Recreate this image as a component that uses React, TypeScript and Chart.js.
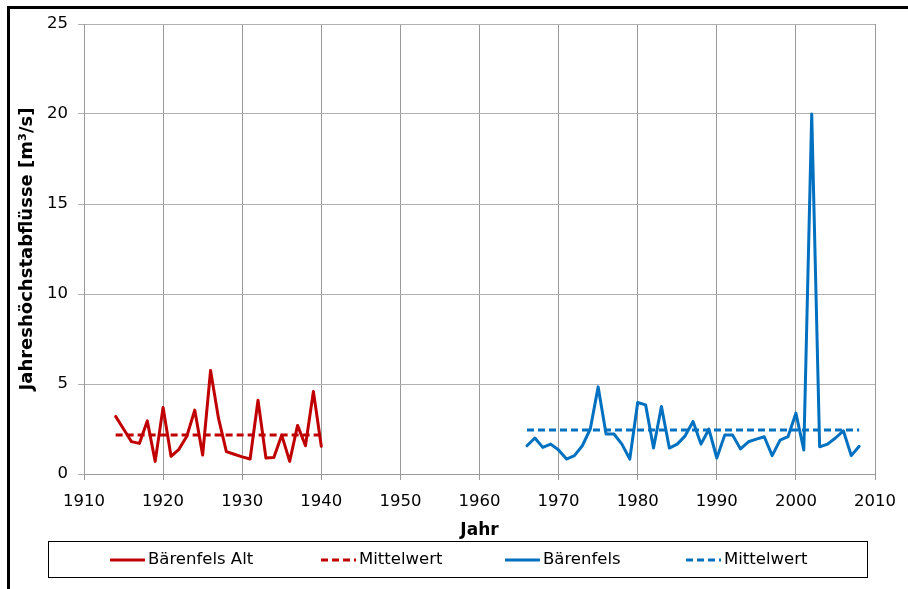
import React, { useEffect, useRef } from "react";
import { Chart, registerables } from "chart.js";

Chart.register(...registerables);

// ---------- data ----------
const X_MIN = 1910;
const X_MAX = 2010;
const X_STEP = 10;
const Y_MIN = 0;
const Y_MAX = 25;
const Y_STEP = 5;

const ALT_YEARS = [
  1914, 1915, 1916, 1917, 1918, 1919, 1920, 1921, 1922, 1923, 1924, 1925, 1926, 1927,
  1928, 1929, 1930, 1931, 1932, 1933, 1934, 1935, 1936, 1937, 1938, 1939, 1940,
];
const ALT_VALUES = [
  3.2, 2.5, 1.8, 1.7, 2.95, 0.7, 3.7, 0.98, 1.37, 2.1, 3.55, 1.05, 5.75, 3.1,
  1.24, 1.1, 0.95, 0.83, 4.1, 0.89, 0.92, 2.16, 0.7, 2.7, 1.57, 4.58, 1.54,
];
const ALT_MEAN = 2.16;

const NEW_YEARS = [
  1966, 1967, 1968, 1969, 1970, 1971, 1972, 1973, 1974, 1975, 1976, 1977, 1978, 1979,
  1980, 1981, 1982, 1983, 1984, 1985, 1986, 1987, 1988, 1989, 1990, 1991, 1992, 1993,
  1994, 1995, 1996, 1997, 1998, 1999, 2000, 2001, 2002, 2003, 2004, 2005, 2006, 2007, 2008,
];
const NEW_VALUES = [
  1.57, 2.0, 1.48, 1.66, 1.33, 0.83, 1.02, 1.57, 2.49, 4.84, 2.22, 2.22, 1.66, 0.83,
  3.97, 3.84, 1.44, 3.75, 1.44, 1.66, 2.12, 2.92, 1.66, 2.49, 0.89, 2.16, 2.16, 1.39,
  1.79, 1.94, 2.07, 1.02, 1.88, 2.07, 3.38, 1.33, 20.0, 1.51, 1.66, 2.0, 2.4, 1.02, 1.54,
];
const NEW_MEAN = 2.44;

const SERIES_LABELS = ["Bärenfels Alt", "Mittelwert", "Bärenfels", "Mittelwert"];
const X_TITLE = "Jahr";
const Y_TITLE = "Jahreshöchstabflüsse [m³/s]";

// ---------- styles ----------
const RED = "#C00000";
const BLUE = "#0070C0";
const GRID_V = "#9a9a9a";
const GRID_H = "#b0b0b0";
const FONT = "'DejaVu Sans', Verdana, sans-serif";
const TICK_SIZE = 16.5;
const TITLE_SIZE = 17;
const Y_TITLE_SIZE = 18;
const LEGEND_STARTS = [110, 321, 505, 686];

const frameLegendPlugin = {
  id: "frameLegend",
  afterDraw(chart: any) {
    const ctx = chart.ctx as CanvasRenderingContext2D;
    ctx.save();
    // outer frame (left + top thick black lines)
    ctx.fillStyle = "#000";
    ctx.fillRect(7, 6, 3, chart.height - 6);
    ctx.fillRect(7, 6, chart.width - 7, 3);
    // legend box
    ctx.strokeStyle = "#000";
    ctx.lineWidth = 1;
    ctx.strokeRect(48.5, 541.5, 819, 36);
    const ly = 560;
    chart.data.datasets.forEach((ds: any, i: number) => {
      const x0 = LEGEND_STARTS[i];
      ctx.save();
      ctx.strokeStyle = ds.borderColor;
      ctx.lineWidth = ds.borderWidth;
      ctx.setLineDash(ds.borderDash || []);
      ctx.lineCap = "butt";
      ctx.beginPath();
      ctx.moveTo(x0, ly);
      ctx.lineTo(x0 + 35, ly);
      ctx.stroke();
      ctx.restore();
      ctx.fillStyle = "#000";
      ctx.font = `${TICK_SIZE}px ${FONT}`;
      ctx.textAlign = "left";
      ctx.textBaseline = "middle";
      ctx.fillText(ds.label, x0 + 38, ly);
    });
    ctx.restore();
  },
};

export default function App() {
  const canvasRef = useRef<HTMLCanvasElement | null>(null);

  useEffect(() => {
    document.body.style.margin = "0";
    const canvas = canvasRef.current;
    if (!canvas) return;

    const altSeries = ALT_YEARS.map((x, i) => ({ x, y: ALT_VALUES[i] }));
    const newSeries = NEW_YEARS.map((x, i) => ({ x, y: NEW_VALUES[i] }));
    const altMean = [
      { x: ALT_YEARS[0], y: ALT_MEAN },
      { x: ALT_YEARS[ALT_YEARS.length - 1], y: ALT_MEAN },
    ];
    const newMean = [
      { x: NEW_YEARS[0], y: NEW_MEAN },
      { x: NEW_YEARS[NEW_YEARS.length - 1], y: NEW_MEAN },
    ];

    const lineBase = {
      pointRadius: 0,
      pointHoverRadius: 0,
      tension: 0,
      fill: false,
      borderWidth: 3,
    };

    const chart = new Chart(canvas, {
      type: "line",
      data: {
        datasets: [
          { ...lineBase, label: SERIES_LABELS[0], data: altSeries, borderColor: RED, backgroundColor: RED, borderJoinStyle: "round", borderCapStyle: "round", order: 1 },
          { ...lineBase, label: SERIES_LABELS[1], data: altMean, borderColor: RED, backgroundColor: RED, borderDash: [7, 4], order: 0 },
          { ...lineBase, label: SERIES_LABELS[2], data: newSeries, borderColor: BLUE, backgroundColor: BLUE, borderJoinStyle: "round", borderCapStyle: "round", order: 1 },
          { ...lineBase, label: SERIES_LABELS[3], data: newMean, borderColor: BLUE, backgroundColor: BLUE, borderDash: [7, 4], order: 0 },
        ] as any,
      },
      options: {
        responsive: false,
        animation: false,
        events: [],
        layout: { padding: { left: 0, top: 24, right: 31, bottom: 47 } },
        plugins: {
          legend: { display: false },
          tooltip: { enabled: false },
          title: { display: false },
        },
        scales: {
          x: {
            type: "linear",
            min: X_MIN,
            max: X_MAX,
            afterFit: (s: any) => {
              s.height = 68;
            },
            ticks: {
              stepSize: X_STEP,
              padding: 12,
              color: "#000",
              font: { family: FONT, size: TICK_SIZE, lineHeight: 1.2 },
              maxRotation: 0,
              callback: (v: any) => String(v),
            },
            grid: { color: GRID_V, lineWidth: 1, tickLength: 6, tickColor: GRID_V, drawTicks: true },
            border: { display: true, color: GRID_V, width: 1 },
            title: {
              display: true,
              text: X_TITLE,
              color: "#000",
              font: { family: FONT, size: TITLE_SIZE, weight: "bold", lineHeight: 1.2 },
              padding: { top: 0, bottom: 1 },
            },
          },
          y: {
            type: "linear",
            min: Y_MIN,
            max: Y_MAX,
            afterFit: (s: any) => {
              s.width = 84;
            },
            ticks: {
              stepSize: Y_STEP,
              padding: 10,
              color: "#000",
              font: { family: FONT, size: TICK_SIZE, lineHeight: 1.2 },
            },
            grid: { color: GRID_H, lineWidth: 1, tickLength: 6, tickColor: GRID_H, drawTicks: true },
            border: { display: true, color: GRID_V, width: 1 },
            title: {
              display: true,
              text: Y_TITLE,
              color: "#000",
              font: { family: FONT, size: Y_TITLE_SIZE, weight: "bold", lineHeight: 1.2 },
              padding: { top: 17, bottom: 0 },
            },
          },
        },
      },
      plugins: [frameLegendPlugin],
    });

    return () => chart.destroy();
  }, []);

  return (
    <div style={{ width: 908, height: 589, background: "#fff" }}>
      <canvas ref={canvasRef} width={908} height={589} style={{ display: "block" }} />
    </div>
  );
}
